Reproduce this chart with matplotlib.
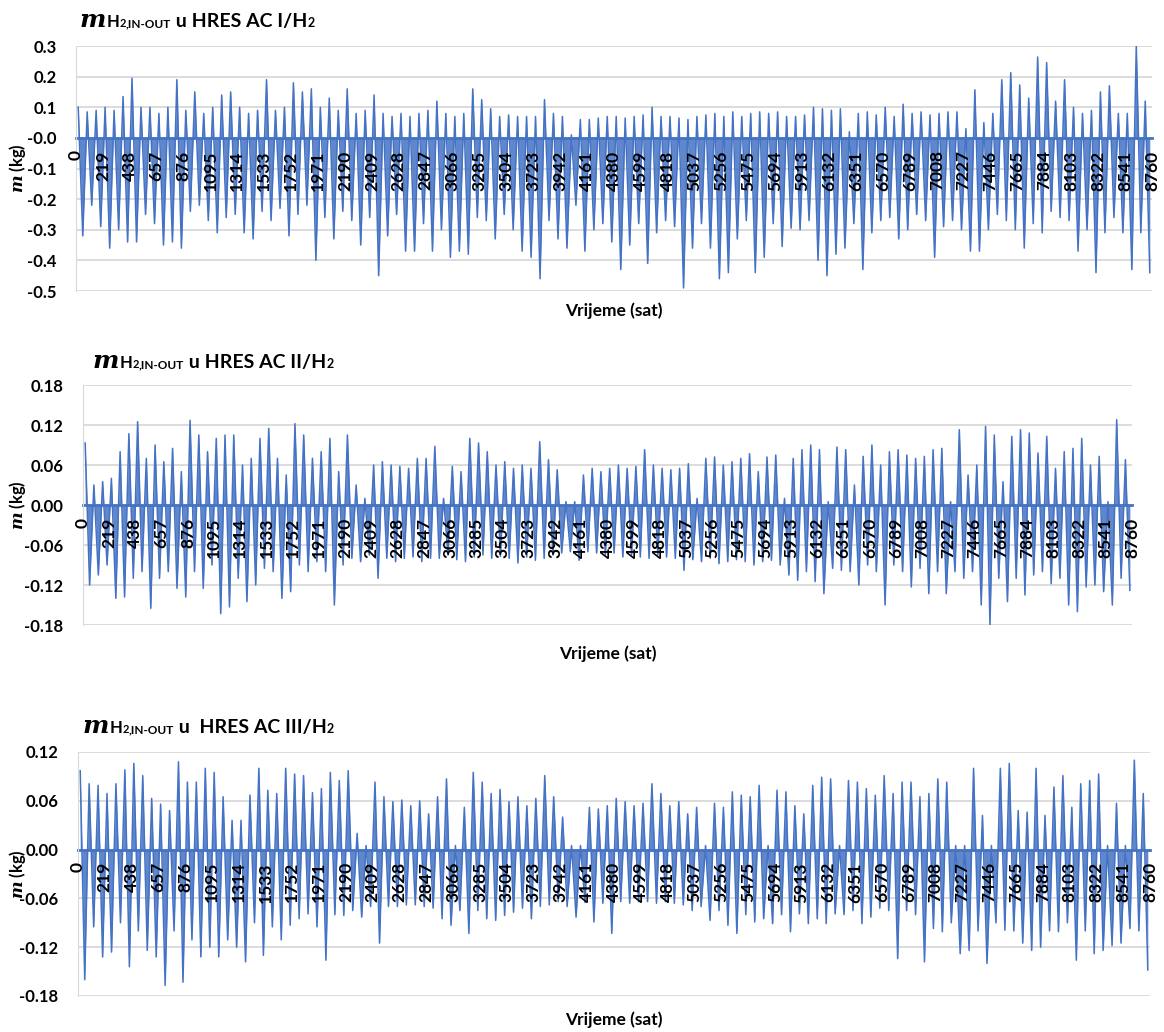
import numpy as np
import matplotlib.pyplot as plt
from matplotlib.ticker import FormatStrFormatter

# hourly year split into 120 blocks of 73 h; each block keeps its
# largest inflow (electrolyser) and largest outflow (fuel cell)
block_start = np.arange(0, 8760, 73)
tick_hours = np.arange(0, 8761, 219)

ac1_in = [0.10, 0.085, 0.09, 0.10, 0.09, 0.135, 0.195, 0.10, 0.10, 0.08,
          0.10, 0.19, 0.09, 0.15, 0.08, 0.10, 0.14, 0.15, 0.10, 0.08,
          0.09, 0.19, 0.09, 0.10, 0.18, 0.15, 0.16, 0.10, 0.13, 0.09,
          0.16, 0.08, 0.09, 0.14, 0.08, 0.07, 0.08, 0.07, 0.08, 0.09,
          0.12, 0.08, 0.07, 0.08, 0.16, 0.125, 0.095, 0.07, 0.075, 0.07,
          0.07, 0.07, 0.125, 0.08, 0.07, 0.01, 0.06, 0.06, 0.065, 0.07,
          0.07, 0.065, 0.07, 0.075, 0.10, 0.07, 0.07, 0.065, 0.06, 0.07,
          0.075, 0.08, 0.07, 0.085, 0.07, 0.08, 0.085, 0.08, 0.085, 0.07,
          0.07, 0.075, 0.10, 0.095, 0.09, 0.095, 0.02, 0.08, 0.085, 0.075,
          0.10, 0.07, 0.11, 0.08, 0.085, 0.075, 0.08, 0.085, 0.085, 0.03,
          0.157, 0.05, 0.08, 0.19, 0.213, 0.173, 0.13, 0.264, 0.246, 0.12,
          0.19, 0.10, 0.08, 0.09, 0.15, 0.17, 0.08, 0.08, 0.30, 0.12]
ac1_out = [-0.32, -0.22, -0.29, -0.36, -0.30, -0.34, -0.34, -0.25, -0.28, -0.35,
           -0.34, -0.36, -0.24, -0.22, -0.27, -0.31, -0.26, -0.25, -0.31, -0.33,
           -0.24, -0.27, -0.23, -0.32, -0.25, -0.22, -0.40, -0.26, -0.33, -0.24,
           -0.27, -0.35, -0.26, -0.45, -0.32, -0.25, -0.37, -0.37, -0.28, -0.37,
           -0.30, -0.39, -0.37, -0.38, -0.26, -0.27, -0.33, -0.25, -0.30, -0.37,
           -0.39, -0.46, -0.27, -0.33, -0.36, -0.22, -0.37, -0.30, -0.28, -0.34,
           -0.43, -0.35, -0.28, -0.41, -0.31, -0.27, -0.29, -0.49, -0.36, -0.28,
           -0.36, -0.46, -0.44, -0.33, -0.27, -0.44, -0.39, -0.28, -0.355, -0.295,
           -0.30, -0.27, -0.40, -0.45, -0.38, -0.36, -0.28, -0.43, -0.31, -0.27,
           -0.26, -0.33, -0.30, -0.25, -0.27, -0.39, -0.29, -0.27, -0.30, -0.37,
           -0.37, -0.30, -0.25, -0.27, -0.30, -0.36, -0.28, -0.31, -0.24, -0.26,
           -0.27, -0.37, -0.30, -0.44, -0.31, -0.26, -0.31, -0.43, -0.31, -0.44]

ac2_in = [0.093, 0.03, 0.035, 0.04, 0.08, 0.107, 0.125, 0.07, 0.09, 0.065,
          0.085, 0.05, 0.127, 0.105, 0.08, 0.10, 0.105, 0.105, 0.06, 0.07,
          0.10, 0.115, 0.07, 0.045, 0.122, 0.105, 0.07, 0.08, 0.10, 0.05,
          0.105, 0.03, 0.01, 0.06, 0.065, 0.06, 0.058, 0.055, 0.07, 0.07,
          0.088, 0.01, 0.058, 0.05, 0.10, 0.093, 0.08, 0.06, 0.065, 0.055,
          0.06, 0.055, 0.095, 0.068, 0.053, 0.005, 0.005, 0.045, 0.055, 0.05,
          0.055, 0.06, 0.055, 0.058, 0.083, 0.06, 0.055, 0.053, 0.055, 0.062,
          0.01, 0.07, 0.072, 0.06, 0.065, 0.07, 0.077, 0.05, 0.072, 0.075,
          0.01, 0.07, 0.083, 0.09, 0.083, 0.005, 0.087, 0.083, 0.03, 0.073,
          0.09, 0.06, 0.08, 0.083, 0.075, 0.07, 0.073, 0.083, 0.085, 0.005,
          0.113, 0.045, 0.06, 0.118, 0.105, 0.035, 0.103, 0.113, 0.108, 0.078,
          0.103, 0.055, 0.08, 0.085, 0.10, 0.06, 0.073, 0.005, 0.128, 0.068]
ac2_out = [-0.12, -0.105, -0.09, -0.14, -0.138, -0.11, -0.10, -0.155, -0.11, -0.10,
           -0.125, -0.138, -0.10, -0.125, -0.09, -0.163, -0.153, -0.11, -0.145, -0.12,
           -0.095, -0.10, -0.14, -0.13, -0.09, -0.10, -0.085, -0.10, -0.15, -0.09,
           -0.08, -0.085, -0.075, -0.11, -0.08, -0.085, -0.08, -0.078, -0.085, -0.08,
           -0.08, -0.075, -0.082, -0.085, -0.078, -0.075, -0.08, -0.077, -0.08, -0.087,
           -0.078, -0.083, -0.08, -0.075, -0.072, -0.07, -0.083, -0.07, -0.072, -0.075,
           -0.072, -0.078, -0.075, -0.078, -0.08, -0.075, -0.078, -0.08, -0.098, -0.082,
           -0.085, -0.08, -0.088, -0.085, -0.082, -0.085, -0.09, -0.085, -0.083, -0.09,
           -0.105, -0.113, -0.10, -0.115, -0.133, -0.095, -0.098, -0.10, -0.12, -0.09,
           -0.10, -0.15, -0.09, -0.10, -0.123, -0.095, -0.133, -0.10, -0.133, -0.10,
           -0.11, -0.10, -0.15, -0.18, -0.11, -0.145, -0.11, -0.135, -0.105, -0.10,
           -0.118, -0.11, -0.15, -0.16, -0.123, -0.12, -0.13, -0.15, -0.11, -0.128]

ac3_in = [0.097, 0.081, 0.079, 0.069, 0.081, 0.098, 0.106, 0.091, 0.063, 0.056,
          0.048, 0.108, 0.083, 0.083, 0.10, 0.095, 0.065, 0.036, 0.036, 0.067,
          0.10, 0.073, 0.069, 0.10, 0.093, 0.091, 0.07, 0.075, 0.095, 0.085,
          0.097, 0.02, 0.005, 0.083, 0.065, 0.059, 0.061, 0.054, 0.06, 0.044,
          0.065, 0.087, 0.005, 0.052, 0.095, 0.083, 0.069, 0.074, 0.059, 0.065,
          0.054, 0.063, 0.091, 0.065, 0.04, 0.005, 0.005, 0.052, 0.05, 0.054,
          0.063, 0.059, 0.054, 0.057, 0.081, 0.069, 0.054, 0.059, 0.044, 0.052,
          0.005, 0.057, 0.052, 0.071, 0.067, 0.065, 0.079, 0.005, 0.073, 0.071,
          0.054, 0.044, 0.079, 0.089, 0.087, 0.005, 0.085, 0.083, 0.075, 0.067,
          0.091, 0.069, 0.083, 0.083, 0.065, 0.069, 0.087, 0.083, 0.005, 0.005,
          0.10, 0.042, 0.005, 0.10, 0.106, 0.048, 0.046, 0.10, 0.042, 0.077,
          0.091, 0.052, 0.081, 0.085, 0.093, 0.005, 0.057, 0.005, 0.11, 0.069]
ac3_out = [-0.16, -0.095, -0.132, -0.126, -0.09, -0.144, -0.10, -0.124, -0.132, -0.167,
           -0.10, -0.163, -0.111, -0.132, -0.12, -0.132, -0.111, -0.12, -0.138, -0.09,
           -0.13, -0.095, -0.111, -0.093, -0.085, -0.079, -0.095, -0.136, -0.08, -0.081,
           -0.075, -0.083, -0.07, -0.115, -0.07, -0.07, -0.068, -0.068, -0.07, -0.072,
           -0.085, -0.093, -0.075, -0.103, -0.075, -0.085, -0.087, -0.081, -0.077, -0.072,
           -0.085, -0.07, -0.068, -0.064, -0.07, -0.083, -0.065, -0.089, -0.066, -0.103,
           -0.064, -0.066, -0.064, -0.064, -0.066, -0.064, -0.066, -0.068, -0.075, -0.07,
           -0.087, -0.075, -0.093, -0.103, -0.08, -0.089, -0.085, -0.091, -0.08, -0.101,
           -0.079, -0.091, -0.085, -0.091, -0.079, -0.08, -0.075, -0.091, -0.083, -0.072,
           -0.075, -0.134, -0.075, -0.08, -0.138, -0.097, -0.101, -0.09, -0.128, -0.124,
           -0.10, -0.14, -0.09, -0.099, -0.10, -0.115, -0.124, -0.12, -0.10, -0.101,
           -0.09, -0.136, -0.10, -0.128, -0.124, -0.118, -0.115, -0.097, -0.10, -0.148]

BLUE = '#4472C4'
GRID = '#d9d9d9'
W, H = 1164, 1032

plt.rcParams['font.family'] = 'Lato'
plt.rcParams['mathtext.fontset'] = 'custom'
plt.rcParams['mathtext.it'] = 'DejaVu Serif:italic:bold'
plt.rcParams['mathtext.bf'] = 'Lato:bold'

fig = plt.figure(figsize=(W / 100, H / 100), dpi=100)
renderer = fig.canvas.get_renderer()


def rich_text(x, y, parts):
    # parts: (text, size, weight, style, family); x, y = baseline start in pixels from top-left
    for s, size, weight, style, fam in parts:
        t = fig.text(x / W, 1 - y / H, s, fontsize=size, fontweight=weight,
                     fontstyle=style, family=fam, ha='left', va='baseline')
        x += t.get_window_extent(renderer).width


def title_parts(tail):
    return [("m", 18, 'bold', 'italic', 'DejaVu Serif'),
            ("H", 12, 'bold', 'normal', 'Lato'),
            ("2", 8, 'bold', 'normal', 'Lato'),
            (",IN-OUT", 8.5, 'bold', 'normal', 'Lato'),
            (tail, 14, 'bold', 'normal', 'Lato'),
            ("2", 9, 'bold', 'normal', 'Lato')]


panels = [
    # (pixel box l, t, r, b), inflow, outflow, ylim, yticks, fmt, title tail, title xy, xlabel y
    ((76, 46, 1152, 291), ac1_in, ac1_out, (-0.5, 0.3), np.arange(-0.5, 0.31, 0.1), '%.1f',
     " u HRES AC I/H", (80, 27), 311),
    ((83, 385, 1132, 625), ac2_in, ac2_out, (-0.18, 0.18), np.arange(-0.18, 0.19, 0.06), '%.2f',
     " u HRES AC II/H", (93, 368), 654),
    ((78, 752, 1150, 996), ac3_in, ac3_out, (-0.18, 0.12), np.arange(-0.18, 0.13, 0.06), '%.2f',
     " u  HRES AC III/H", (83, 733), 1020),
]

for (l, t, r, b), q_in, q_out, ylim, yticks, fmt, tail, (tx, ty), xl_y in panels:
    ax = fig.add_axes([l / W, 1 - b / H, (r - l) / W, (b - t) / H])
    ax.set_axisbelow(False)  # rotated hour labels sit on top of the series

    x = np.empty(2 * len(block_start))
    y = np.empty(2 * len(block_start))
    x[0::2] = block_start + 18
    x[1::2] = block_start + 55
    y[0::2] = q_in
    y[1::2] = q_out
    ax.fill_between(x, y, 0, color=BLUE, alpha=0.85, lw=0, zorder=1.5)
    ax.plot(x, y, color=BLUE, lw=1.1, zorder=1.6)

    ax.set_xlim(0, 8760)
    ax.set_ylim(*ylim)
    ax.set_yticks(yticks)
    ax.yaxis.set_major_formatter(FormatStrFormatter(fmt))
    for v in yticks:
        ax.axhline(v, color=GRID, lw=1.3, zorder=0)

    for s in ['top', 'right']:
        ax.spines[s].set_visible(False)
    ax.spines['left'].set_color(GRID)
    ax.spines['bottom'].set_position(('data', 0))
    ax.spines['bottom'].set_color(BLUE)
    ax.spines['bottom'].set_linewidth(2)
    ax.spines['bottom'].set_zorder(1.7)

    ax.set_xticks(tick_hours)
    ax.set_xticklabels([str(h) for h in tick_hours], rotation=90,
                       fontweight='bold', fontsize=12.5)
    ax.tick_params(axis='x', length=0, pad=9)
    ax.tick_params(axis='y', length=0, pad=14, labelsize=12)
    for lab in ax.get_yticklabels():
        lab.set_fontweight('bold')

    fig.text(17 / W, 1 - ((t + b) / 2) / H, r'$\mathit{m}$ (kg)', rotation=90,
             ha='center', va='center', fontsize=12, fontweight='bold')
    fig.text(((l + r) / 2) / W, 1 - xl_y / H, "Vrijeme (sat)", ha='center', va='center',
             fontsize=12.5, fontweight='bold')
    rich_text(tx, ty, title_parts(tail))

fig.savefig('out.png', dpi=100)
